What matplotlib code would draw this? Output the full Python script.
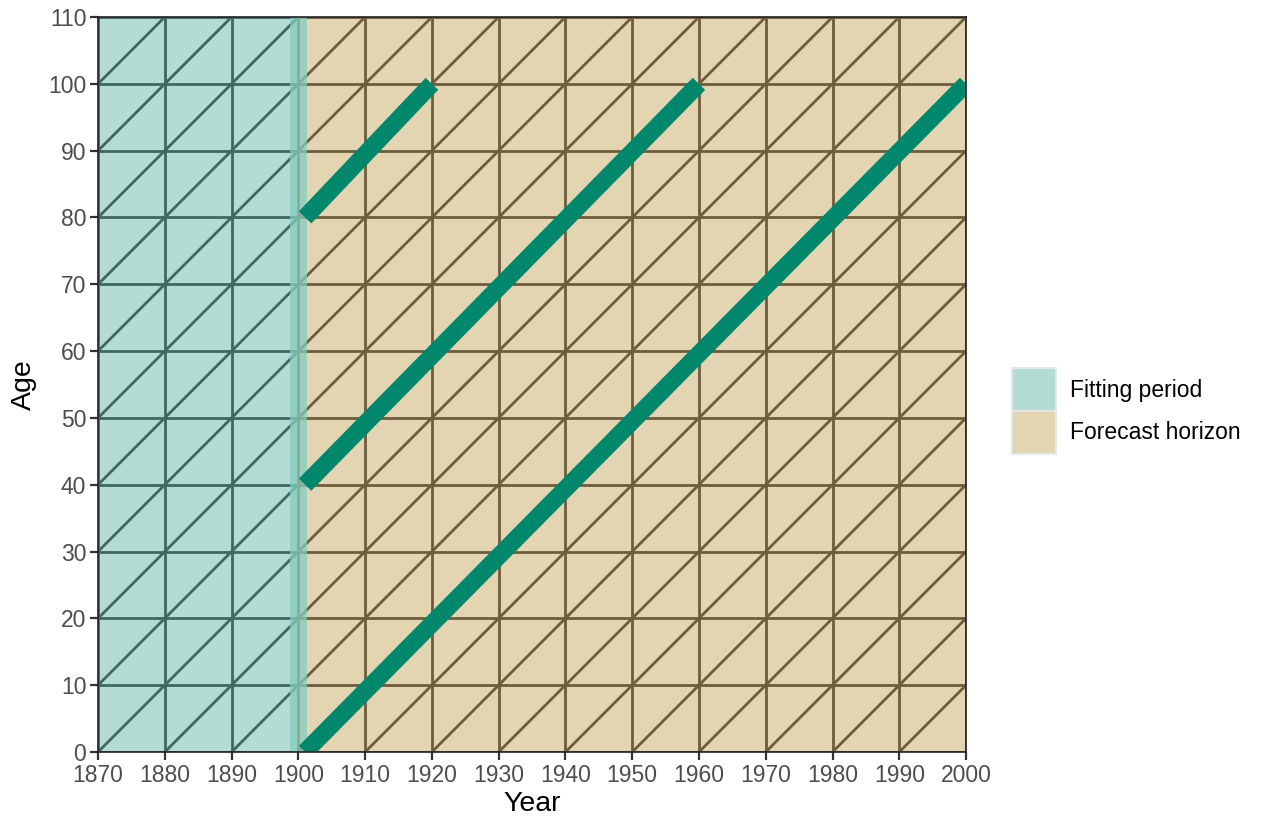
import matplotlib.pyplot as plt
import matplotlib.patches as mpatches
import numpy as np

plt.rcParams['font.family'] = ['Liberation Sans', 'DejaVu Sans']

# regions
fit_start, fit_end = 1870, 1900
fc_start, fc_end = 1900, 2000
band = (1898.75, 1901.25)
age_max = 110

# grid every 10 years / ages
years = np.arange(1870, 2001, 10)
ages = np.arange(0, 111, 10)
diag_offsets = np.arange(1760, 2001, 10)  # age = year - offset

# cohorts: start (year, age), end (year, age)
coh_x0 = [1901, 1901, 1901]
coh_y0 = [80, 40, 0]
coh_x1 = [1920, 1960, 2000]
coh_y1 = [100, 100, 100]

teal_fill = '#b4dcd5'
beige_fill = '#e3d5b2'
teal_line = '#3e695f'
beige_line = '#6e5c3c'
cohort_col = '#00876c'

fig = plt.figure(figsize=(12.62, 8.22), dpi=100)
ax = fig.add_axes([0.0777, 0.0852, 0.6878, 0.8941])

r1 = mpatches.Rectangle((fit_start, 0), fit_end - fit_start, age_max,
                        facecolor=teal_fill, edgecolor='none', zorder=1)
r2 = mpatches.Rectangle((fc_start, 0), fc_end - fc_start, age_max,
                        facecolor=beige_fill, edgecolor='none', zorder=1)
ax.add_patch(r1)
ax.add_patch(r2)

for clip, col in [(r1, teal_line), (r2, beige_line)]:
    segs = []
    for y in years:
        segs.append(ax.plot([y, y], [0, age_max], color=col, lw=2.0, zorder=2)[0])
    for a in ages:
        segs.append(ax.plot([1870, 2000], [a, a], color=col, lw=2.0, zorder=2)[0])
    for c in diag_offsets:
        segs.append(ax.plot([c, c + age_max + 200], [0, age_max + 200], color=col, lw=2.0, zorder=2)[0])
    for s in segs:
        s.set_clip_path(clip)

ax.add_patch(mpatches.Rectangle((band[0], 0), band[1] - band[0], age_max,
                                facecolor='#84cdbf', alpha=0.75, edgecolor='none', zorder=3))

for x0, y0, x1, y1 in zip(coh_x0, coh_y0, coh_x1, coh_y1):
    ax.plot([x0, x1], [y0, y1], color=cohort_col, lw=12.5, solid_capstyle='butt', zorder=4)

ax.set_xlim(1870, 2000)
ax.set_ylim(0, 110)
ax.set_xticks(years)
ax.set_yticks(ages)
ax.tick_params(colors='#333333', labelcolor='#4d4d4d', labelsize=16.5, length=5.5, width=1.6, pad=3)
for sp in ax.spines.values():
    sp.set_color('#222222')
    sp.set_linewidth(1.2)
    sp.set_zorder(5)
ax.set_xlabel('Year', fontsize=20.5, labelpad=3)
ax.set_ylabel('Age', fontsize=20.5, labelpad=8)

handles = [mpatches.Patch(facecolor=teal_fill, edgecolor='#e6e6e6', lw=1.5, label='Fitting period'),
           mpatches.Patch(facecolor=beige_fill, edgecolor='#e6e6e6', lw=1.5, label='Forecast horizon')]
fig.legend(handles=handles, loc='center left', bbox_to_anchor=(0.787, 0.5), frameon=False,
           fontsize=16.5, handlelength=1.95, handleheight=2.5, handletextpad=0.6,
           labelspacing=0.0, borderpad=0.3)

fig.savefig('out.png', dpi=100)
